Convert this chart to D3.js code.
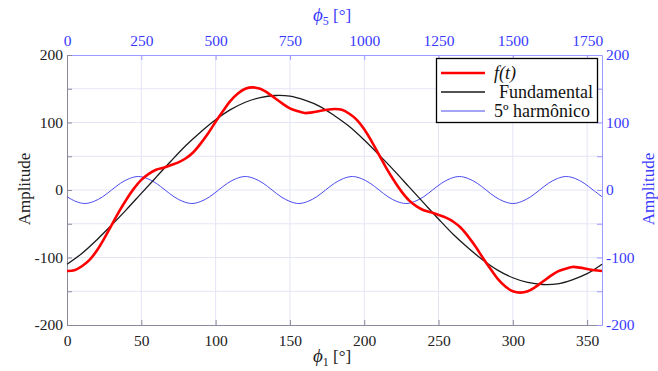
<!DOCTYPE html>
<html><head><meta charset="utf-8">
<script src="https://cdn.jsdelivr.net/npm/d3@7"></script>
</head><body style="margin:0;background:#fff">
<svg id="c" width="658" height="371" style="display:block"></svg>
<script>
// Data
const phiFund = [0,10,20,30,40,50,60,70,80,90,100,110,120,130,140,150,160,170,180,190,200,210,220,230,240,250,260,270,280,290,300,310,320,330,340,350,360];
const fundamental = [-110,-94,-74,-52,-29,-5,19,43,66,86,104,119,130,137,140,139,133,124,110,94,74,52,29,5,-19,-43,-66,-86,-104,-119,-130,-137,-140,-139,-133,-124,-110];
const phiHarm = [0,6,12,18,24,30,36,42,48,54,60,66,72,78,84,90,96,102,108,114,120,126,132,138,144,150,156,162,168,174,180,186,192,198,204,210,216,222,228,234,240,246,252,258,264,270,276,282,288,294,300,306,312,318,324,330,336,342,348,354,360];
const harmonic5 = [-10,-17,-20,-17,-10,0,10,17,20,17,10,0,-10,-17,-20,-17,-10,0,10,17,20,17,10,0,-10,-17,-20,-17,-10,0,10,17,20,17,10,0,-10,-17,-20,-17,-10,0,10,17,20,17,10,0,-10,-17,-20,-17,-10,0,10,17,20,17,10,0,-10];
const phiF = [0,5,10,15,20,25,30,35,40,45,50,55,60,65,70,75,80,85,90,95,100,105,110,115,120,125,130,135,140,145,150,155,160,165,170,175,180,185,190,195,200,205,210,215,220,225,230,235,240,245,250,255,260,265,270,275,280,285,290,295,300,305,310,315,320,325,330,335,340,345,350,355,360];
const ft = [-120,-119,-113,-104,-90,-72,-52,-32,-14,2,15,24,30,33,37,41,47,56,69,84,101,117,132,143,150,152,150,144,136,128,121,117,114,115,117,119,120,119,113,104,90,72,52,32,14,-2,-15,-24,-30,-33,-37,-41,-47,-56,-69,-84,-101,-117,-132,-143,-150,-152,-150,-144,-136,-128,-121,-117,-114,-115,-117,-119,-120];
const xTicks = [0,50,100,150,200,250,300,350];
const x5Ticks = [0,250,500,750,1000,1250,1500,1750];
const yTicks = [-200,-150,-100,-50,0,50,100,150,200];
const legendLabels = ["f(t)","Fundamental","5º harmônico"];

const FONT = "Liberation Serif";
const svg = d3.select("#c");
const L=67,R=602,T=55,B=325;
const x = d3.scaleLinear().domain([0,360]).range([L,R]);
const x5 = d3.scaleLinear().domain([0,1800]).range([L,R]);
const y = d3.scaleLinear().domain([-200,200]).range([B,T]);
const blue="#3a3aff", grid="#e4e4f7";

// grid
const g = svg.append("g");
g.selectAll(".vg").data(xTicks.slice(1)).enter().append("line")
 .attr("x1",d=>x(d)).attr("x2",d=>x(d)).attr("y1",T).attr("y2",B).attr("stroke",grid).attr("stroke-width",1);
g.selectAll(".hg").data(yTicks.slice(1,-1)).enter().append("line")
 .attr("y1",d=>y(d)).attr("y2",d=>y(d)).attr("x1",L).attr("x2",R).attr("stroke",grid).attr("stroke-width",1);

// axes
const ax = (gen, tr) => svg.append("g").attr("transform",tr).call(gen);
const axB = ax(d3.axisBottom(x).tickValues(xTicks).tickFormat(d3.format("d")).tickSizeInner(-5).tickSizeOuter(0).tickPadding(10), `translate(0,${B})`);
const axT = ax(d3.axisTop(x5).tickValues(x5Ticks).tickFormat(d3.format("d")).tickSizeInner(-5).tickSizeOuter(0).tickPadding(9), `translate(0,${T})`);
const axL = ax(d3.axisLeft(y).tickValues(yTicks).tickFormat(d=>d%100===0?d:"").tickSizeInner(-5).tickSizeOuter(0).tickPadding(4), `translate(${L},0)`);
const axR = ax(d3.axisRight(y).tickValues(yTicks).tickFormat(d=>d%100===0?d:"").tickSizeInner(-5).tickSizeOuter(0).tickPadding(4), `translate(${R},0)`);
[axB,axL].forEach(a=>{a.selectAll("text").attr("fill","#222").style("font-size","15.5px");a.select(".domain").attr("stroke","#8a8a9a");a.selectAll(".tick line").attr("stroke","#8a8a9a");});
[axT,axR].forEach(a=>{a.selectAll("text").attr("fill",blue).style("font-size","15.5px");a.select(".domain").attr("stroke","#9a9aff");a.selectAll(".tick line").attr("stroke","#9a9aff");});

// lines
const line = (xs, ys) => d3.line().x((d,i)=>x(xs[i])).y(d=>y(d)).curve(d3.curveCatmullRom)(ys);
svg.append("path").attr("d",line(phiHarm,harmonic5)).attr("fill","none").attr("stroke","#4a4af0").attr("stroke-width",1);
svg.append("path").attr("d",line(phiFund,fundamental)).attr("fill","none").attr("stroke","#1a1a1a").attr("stroke-width",1.3);
svg.append("path").attr("d",line(phiF,ft)).attr("fill","none").attr("stroke","#ff0000").attr("stroke-width",2.6);

// axis titles
const bt = svg.append("text").attr("x",332).attr("y",362).attr("text-anchor","middle").attr("fill","#222").style("font-size","17px");
bt.append("tspan").text("ϕ").style("font-style","italic").style("font-size","19px");
bt.append("tspan").text("1").attr("dy",4).style("font-size","12px");
bt.append("tspan").text(" [°]").attr("dy",-4);
const tt = svg.append("text").attr("x",332).attr("y",21).attr("text-anchor","middle").attr("fill",blue).style("font-size","17px");
tt.append("tspan").text("ϕ").style("font-style","italic").style("font-size","19px");
tt.append("tspan").text("5").attr("dy",4).style("font-size","12px");
tt.append("tspan").text(" [°]").attr("dy",-4);
svg.append("text").attr("transform","translate(30,189) rotate(-90)").attr("text-anchor","middle").attr("fill","#222").style("font-size","17px").text("Amplitude");
svg.append("text").attr("transform","translate(654,189) rotate(-90)").attr("text-anchor","middle").attr("fill",blue).style("font-size","17px").text("Amplitude");

// legend
const lg = svg.append("g");
lg.append("rect").attr("x",436.5).attr("y",58.5).attr("width",161).attr("height",64).attr("fill","#fff").attr("stroke","#000").attr("stroke-width",1.3);
const lcol=["#ff0000","#1a1a1a","#4a4af0"], lw=[2.6,1.3,1], lx=[494,499,494];
legendLabels.forEach((t,i)=>{
  const yy = 73 + i*19;
  lg.append("line").attr("x1",441).attr("x2",485).attr("y1",yy).attr("y2",yy).attr("stroke",lcol[i]).attr("stroke-width",lw[i]);
  lg.append("text").attr("x",lx[i]).attr("y",yy+6).attr("fill","#111").style("font-size","18px").style("font-style",i===0?"italic":"normal").text(t);
});
svg.selectAll("text").style("font-family",FONT);
</script>
</body></html>
